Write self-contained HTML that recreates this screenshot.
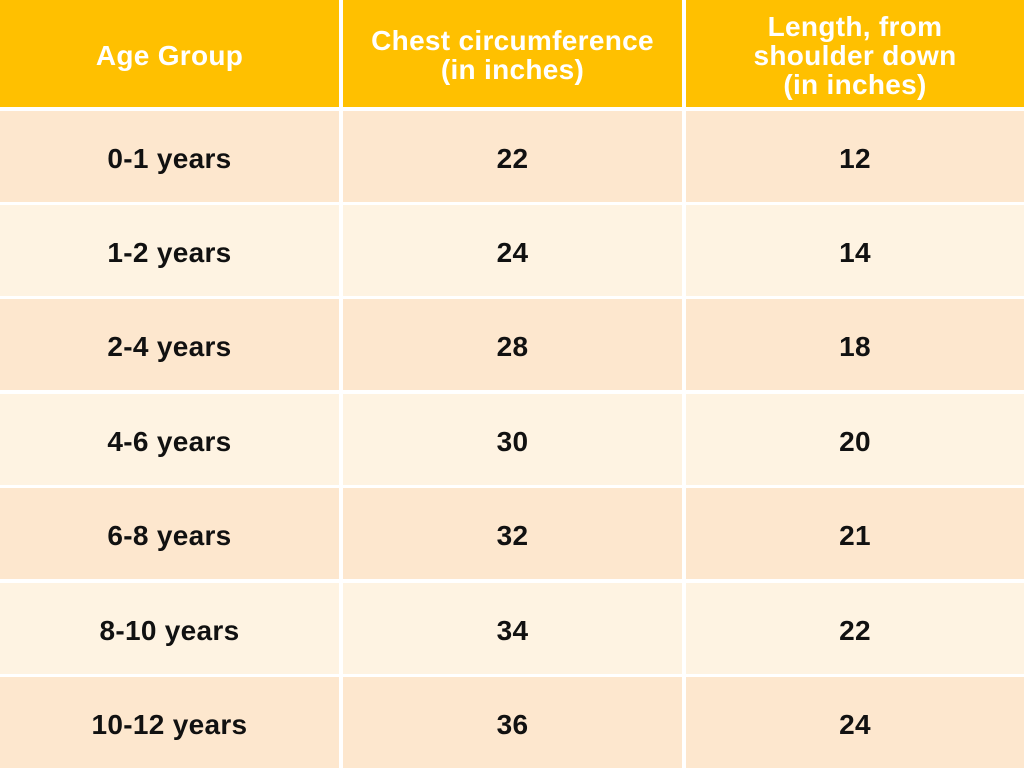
<!DOCTYPE html>
<html><head><style>
html,body{margin:0;padding:0;background:#fff;}
.c{position:absolute;display:flex;align-items:center;justify-content:center;text-align:center;font-family:"Liberation Sans",sans-serif;font-weight:bold;color:#111;font-size:28px;line-height:29px;letter-spacing:0.3px;padding-top:3px;box-sizing:border-box;}
.h{background:#FFC000;color:#fff;}
.o{background:#FDE7CE;}
.e{background:#FEF3E2;}
</style></head><body>
<div style="position:relative;width:1024px;height:768px;overflow:hidden;">
<div class="c h" style="left:0;top:0;width:339px;height:107px;">Age Group</div>
<div class="c h" style="left:343px;top:0;width:339px;height:107px;">Chest circumference<br>(in inches)</div>
<div class="c h" style="left:686px;top:0;width:338px;height:107px;">Length, from<br>shoulder down<br>(in inches)</div>

<div class="c o" style="left:0;top:111px;width:339px;height:91px;">0-1 years</div>
<div class="c o" style="left:343px;top:111px;width:339px;height:91px;">22</div>
<div class="c o" style="left:686px;top:111px;width:338px;height:91px;">12</div>

<div class="c e" style="left:0;top:205px;width:339px;height:91px;">1-2 years</div>
<div class="c e" style="left:343px;top:205px;width:339px;height:91px;">24</div>
<div class="c e" style="left:686px;top:205px;width:338px;height:91px;">14</div>

<div class="c o" style="left:0;top:299px;width:339px;height:91px;">2-4 years</div>
<div class="c o" style="left:343px;top:299px;width:339px;height:91px;">28</div>
<div class="c o" style="left:686px;top:299px;width:338px;height:91px;">18</div>

<div class="c e" style="left:0;top:394px;width:339px;height:91px;">4-6 years</div>
<div class="c e" style="left:343px;top:394px;width:339px;height:91px;">30</div>
<div class="c e" style="left:686px;top:394px;width:338px;height:91px;">20</div>

<div class="c o" style="left:0;top:488px;width:339px;height:91px;">6-8 years</div>
<div class="c o" style="left:343px;top:488px;width:339px;height:91px;">32</div>
<div class="c o" style="left:686px;top:488px;width:338px;height:91px;">21</div>

<div class="c e" style="left:0;top:583px;width:339px;height:91px;">8-10 years</div>
<div class="c e" style="left:343px;top:583px;width:339px;height:91px;">34</div>
<div class="c e" style="left:686px;top:583px;width:338px;height:91px;">22</div>

<div class="c o" style="left:0;top:677px;width:339px;height:91px;">10-12 years</div>
<div class="c o" style="left:343px;top:677px;width:339px;height:91px;">36</div>
<div class="c o" style="left:686px;top:677px;width:338px;height:91px;">24</div>
</div>
</body></html>
